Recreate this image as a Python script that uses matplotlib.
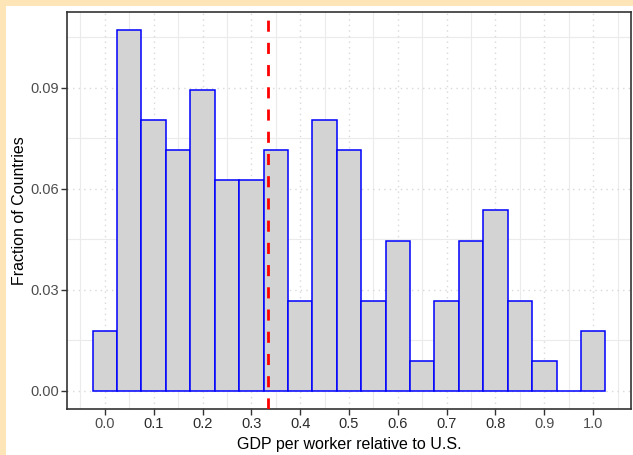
import matplotlib
matplotlib.use("Agg")
import matplotlib.pyplot as plt
import matplotlib.patches as mpatches
import numpy as np

# bin centres (width 0.05) and fraction of countries in each bin
bin_centers = [0.00, 0.05, 0.10, 0.15, 0.20, 0.25, 0.30, 0.35, 0.40, 0.45, 0.50,
               0.55, 0.60, 0.65, 0.70, 0.75, 0.80, 0.85, 0.90, 0.95, 1.00]
fractions = [0.0179, 0.1071, 0.0804, 0.0714, 0.0893, 0.0625, 0.0625, 0.0714,
             0.0268, 0.0804, 0.0714, 0.0268, 0.0446, 0.0089, 0.0268, 0.0446,
             0.0536, 0.0268, 0.0089, 0.0000, 0.0179]
mean_value = 0.334

x_ticks = [0.0, 0.1, 0.2, 0.3, 0.4, 0.5, 0.6, 0.7, 0.8, 0.9, 1.0]
y_ticks = [0.00, 0.03, 0.06, 0.09]

plt.rcParams["font.family"] = ["Liberation Sans", "DejaVu Sans"]

fig = plt.figure(figsize=(6.33, 4.55), dpi=100)
fig.patch.set_facecolor("#FEE5B7")
# white plotting area leaving a beige strip at top and left
fig.patches.append(mpatches.Rectangle((6 / 633, 0), 1, 449 / 455,
                                      transform=fig.transFigure,
                                      facecolor="white", edgecolor="none", zorder=-10))

ax = fig.add_axes([67 / 633, 1 - 409 / 455, (631 - 67) / 633, (409 - 12) / 455])
ax.set_facecolor("white")

width = 0.05
ax.set_xlim(-0.0775, 1.0775)
ax.set_ylim(-0.00536, 0.1125)

# grid: minor solid, major dotted
for xm in np.arange(-0.05, 1.06, 0.1):
    ax.axvline(xm, color="#EBEBEB", lw=0.8, zorder=0)
for ym in [0.015, 0.045, 0.075, 0.105]:
    ax.axhline(ym, color="#EBEBEB", lw=0.8, zorder=0)
for xt in x_ticks:
    ax.axvline(xt, color="#D9D9D9", lw=1.0, ls=(0, (1, 3)), zorder=0)
for yt in y_ticks:
    ax.axhline(yt, color="#D9D9D9", lw=1.0, ls=(0, (1, 3)), zorder=0)

ax.bar(bin_centers, fractions, width=width, color="#D3D3D3",
       edgecolor="blue", linewidth=1.1, zorder=2)

ax.axvline(mean_value, color="#FF0000", lw=2.0, ls=(0, (4, 4)), zorder=3)

ax.set_xticks(x_ticks)
ax.set_xticklabels([f"{v:.1f}" for v in x_ticks])
ax.set_yticks(y_ticks)
ax.set_yticklabels([f"{v:.2f}" for v in y_ticks])
ax.tick_params(axis="both", length=4, width=1.0, color="#333333",
               labelsize=10.5, labelcolor="#4D4D4D", pad=2)
for lab in ax.get_xticklabels():
    if lab.get_text() not in ("0.0", "0.9", "1.0"):
        lab.set_color("#2A2A2A")

for sp in ax.spines.values():
    sp.set_color("#333333")
    sp.set_linewidth(1.2)

ax.set_xlabel("GDP per worker relative to U.S.", fontsize=11.5, color="black", labelpad=4)
ax.set_ylabel("Fraction of Countries", fontsize=11.5, color="black", labelpad=2)

fig.savefig("out.png", dpi=100, facecolor=fig.get_facecolor())
